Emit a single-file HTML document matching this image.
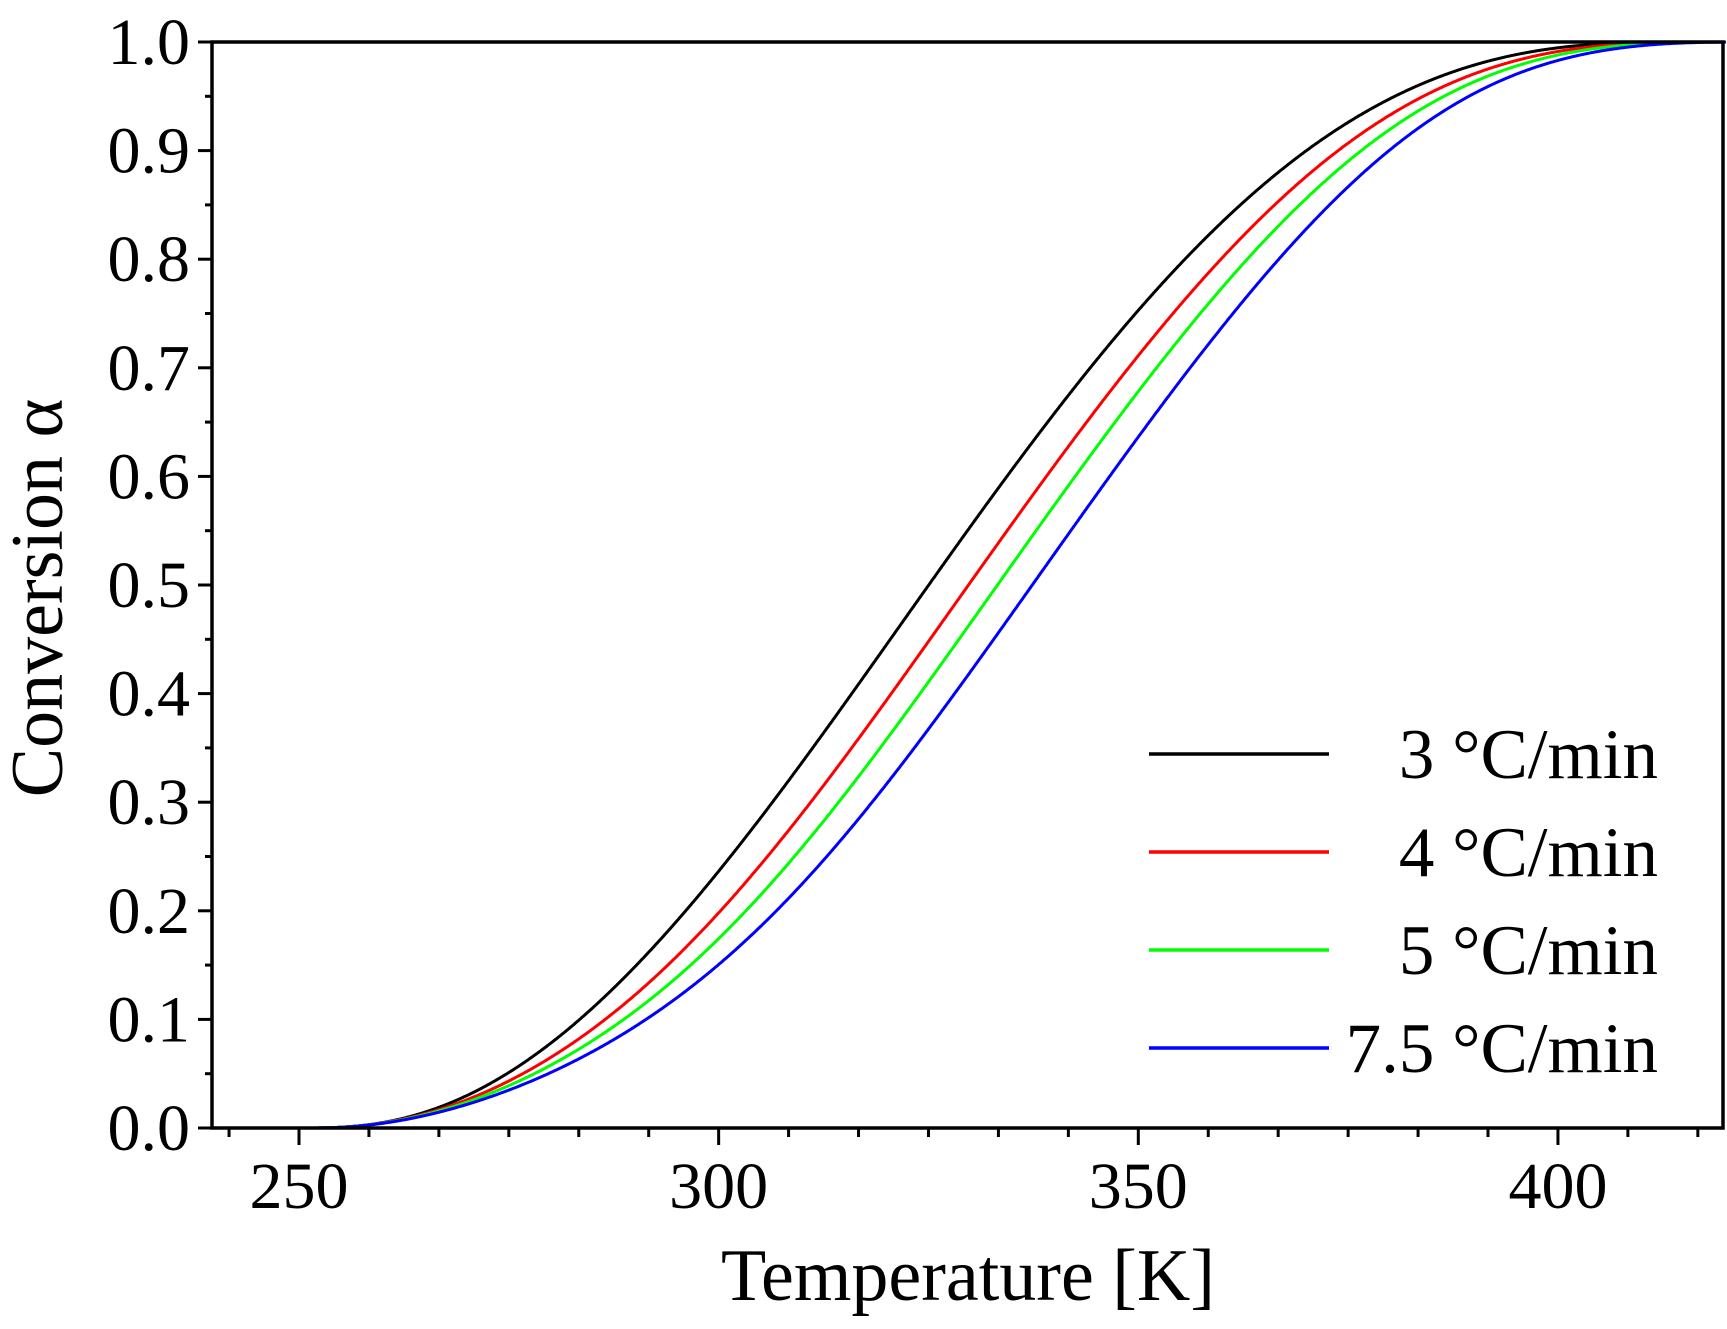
<!DOCTYPE html>
<html><head><meta charset="utf-8"><style>html,body{margin:0;padding:0;background:#fff}svg{display:block}</style></head>
<body>
<svg id="s" width="1727" height="1329" xmlns="http://www.w3.org/2000/svg" font-family="'Liberation Serif', serif">
<g id="curves" fill="none" stroke-width="3"></g>
<rect x="212" y="42" width="1511" height="1086" fill="none" stroke="#000" stroke-width="3.5"/>
<g id="ticks" stroke="#000" stroke-width="3"></g>
<g id="labels" font-size="66" fill="#000"></g>
<text x="968" y="1300" font-size="74" text-anchor="middle">Temperature [K]</text>
<text transform="translate(62,598) rotate(-90)" font-size="74" text-anchor="middle">Conversion α</text>
<g stroke-width="3.5">
<line x1="1149" y1="754" x2="1329" y2="754" stroke="#000"/>
<line x1="1149" y1="852" x2="1329" y2="852" stroke="#f00"/>
<line x1="1149" y1="950" x2="1329" y2="950" stroke="#0f0"/>
<line x1="1149" y1="1048" x2="1329" y2="1048" stroke="#00f"/>
</g>
<g font-size="71" text-anchor="end">
<text x="1658" y="778">3 °C/min</text>
<text x="1658" y="876">4 °C/min</text>
<text x="1658" y="974">5 °C/min</text>
<text x="1658" y="1072">7.5 °C/min</text>
</g>
</svg>
<script>
var X=function(T){return 299+(T-250)*8.393;};
var Y=function(a){return 1128-a*1086;};
var T0=251,T1=416,N=800;
var D=[[256.9,0.0046],[266,0.018],[275.1,0.047],[284.2,0.093],[293.3,0.167],[302.3,0.256],[326.5,0.532],[341.1,0.67],[357.5,0.808],[374.5,0.916],[384.2,0.947],[393.8,0.976],[403.5,0.993]];
function cdf(a,b){var c=[0],s=0,prev=0;for(var i=1;i<=N;i++){var u=i/N;var v=(i==N&&b<1)?0:Math.pow(u,a-1)*Math.pow(1-u,b-1);s+=(prev+v)/2;prev=v;c.push(s);}for(var i=0;i<=N;i++)c[i]/=s;return c;}
function ev(c,T){var u=(T-T0)/(T1-T0);if(u<=0)return 0;if(u>=1)return 1;var x=u*N,i=Math.floor(x),f=x-i;return c[i]*(1-f)+c[Math.min(N,i+1)]*f;}
var best=null,be=1e9;
for(var a=1.5;a<=5;a+=0.05)for(var b=1.2;b<=5;b+=0.05){var c=cdf(a,b),e=0;D.forEach(function(p){var r=ev(c,p[0])-p[1];e+=r*r;});if(e<be){be=e;best=c;}}
var ns="http://www.w3.org/2000/svg";
var cs=[["#000",0],["#f00",4.8],["#0f0",8.3],["#00f",12.5]];
var g=document.getElementById("curves");
cs.forEach(function(c){var d="",first=true;for(var k=0;k<=1690;k++){var Tb=T0+k*0.1;var a=ev(best,Tb);var f=(1-Math.exp(-a/0.1))*(1-0.4*Math.pow(a,6));var T=Tb+c[1]*f;if(T>420)break;d+=(first?"M":"L")+X(T).toFixed(1)+","+Y(a).toFixed(1);first=false;}d+="L"+X(420)+","+Y(1);
var p=document.createElementNS(ns,"path");p.setAttribute("d",d);p.setAttribute("stroke",c[0]);g.appendChild(p);});
var t=document.getElementById("ticks"),L=document.getElementById("labels");
function line(x1,y1,x2,y2){var l=document.createElementNS(ns,"line");l.setAttribute("x1",x1);l.setAttribute("y1",y1);l.setAttribute("x2",x2);l.setAttribute("y2",y2);t.appendChild(l);}
function txt(x,y,s,anc){var e=document.createElementNS(ns,"text");e.setAttribute("x",x);e.setAttribute("y",y);e.setAttribute("text-anchor",anc);e.textContent=s;L.appendChild(e);}
for(var k=-1;k<=20;k++){var T=250+k*25/3;if(T<240||T>420)continue;var x=X(T);var maj=(k%6==0);line(x,1128,x,maj?1145:1137);}
[250,300,350,400].forEach(function(T){txt(X(T),1208,String(T),"middle");});
for(var k=0;k<=20;k++){var y=Y(k/20);var maj=(k%2==0);line(212,y,maj?198:205,y);if(maj)txt(190,y+22,(k/20).toFixed(1),"end");}
</script>
</body></html>
